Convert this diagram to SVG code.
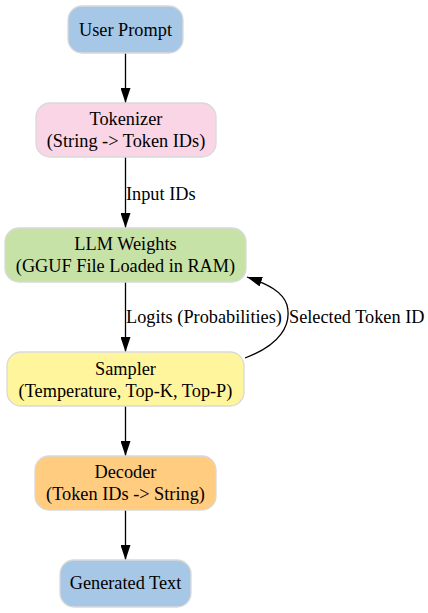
<svg xmlns="http://www.w3.org/2000/svg" width="428" height="613" viewBox="0 0 428 613">
<defs>
<marker id="ah" markerWidth="15" markerHeight="10" refX="15" refY="5" orient="auto" markerUnits="userSpaceOnUse" viewBox="0 0 15 10">
<path d="M0,0 L15,5 L0,10 Z" fill="#000"/>
</marker>
</defs>
<style>
text{font-family:"Times New Roman","Liberation Serif",Times,serif;font-size:18.3px;fill:#000}
.n{stroke:#d9d9d9;stroke-width:1.3}
.c{text-anchor:middle}
.e{fill:none;stroke:#000;stroke-width:1.3;marker-end:url(#ah)}
</style>
<rect width="428" height="613" fill="#fff"/>
<g id="edges">
<path class="e" d="M125.5,53 L125.5,103"/>
<path class="e" d="M125.5,157 L125.5,228"/>
<path class="e" d="M125.5,282 L125.5,352"/>
<path class="e" d="M245,358 C280,345 292,325 287,305 C283,292 268,284 247,277"/>
<path class="e" d="M125.5,406 L125.5,456"/>
<path class="e" d="M125.5,510 L125.5,560"/>
<text x="126" y="200">Input IDs</text>
<text x="126" y="323">Logits (Probabilities)</text>
<text x="289" y="323">Selected Token ID</text>
</g>
<g id="user_prompt">
<rect class="n" x="68" y="6" width="115" height="47" rx="14" fill="#a7c7e7"/>
<text class="c" x="125.5" y="36">User Prompt</text>
</g>
<g id="tokenizer">
<rect class="n" x="36" y="103" width="180" height="54" rx="14" fill="#f9d5e5"/>
<text class="c" x="126" y="125">Tokenizer</text>
<text class="c" x="126" y="147">(String -&gt; Token IDs)</text>
</g>
<g id="llm_weights">
<rect class="n" x="5" y="228" width="241" height="54" rx="14" fill="#c7e2a7"/>
<text class="c" x="125.5" y="250">LLM Weights</text>
<text class="c" x="125.5" y="272">(GGUF File Loaded in RAM)</text>
</g>
<g id="sampler">
<rect class="n" x="7" y="352" width="237" height="54" rx="14" fill="#fff59d"/>
<text class="c" x="125.5" y="375">Sampler</text>
<text class="c" x="125.5" y="397">(Temperature, Top-K, Top-P)</text>
</g>
<g id="decoder">
<rect class="n" x="35" y="456" width="181" height="54" rx="14" fill="#ffcc80"/>
<text class="c" x="125.5" y="478">Decoder</text>
<text class="c" x="125.5" y="500">(Token IDs -&gt; String)</text>
</g>
<g id="generated_text">
<rect class="n" x="60" y="560" width="131" height="47" rx="14" fill="#a7c7e7"/>
<text class="c" x="125.5" y="589">Generated Text</text>
</g>
</svg>
